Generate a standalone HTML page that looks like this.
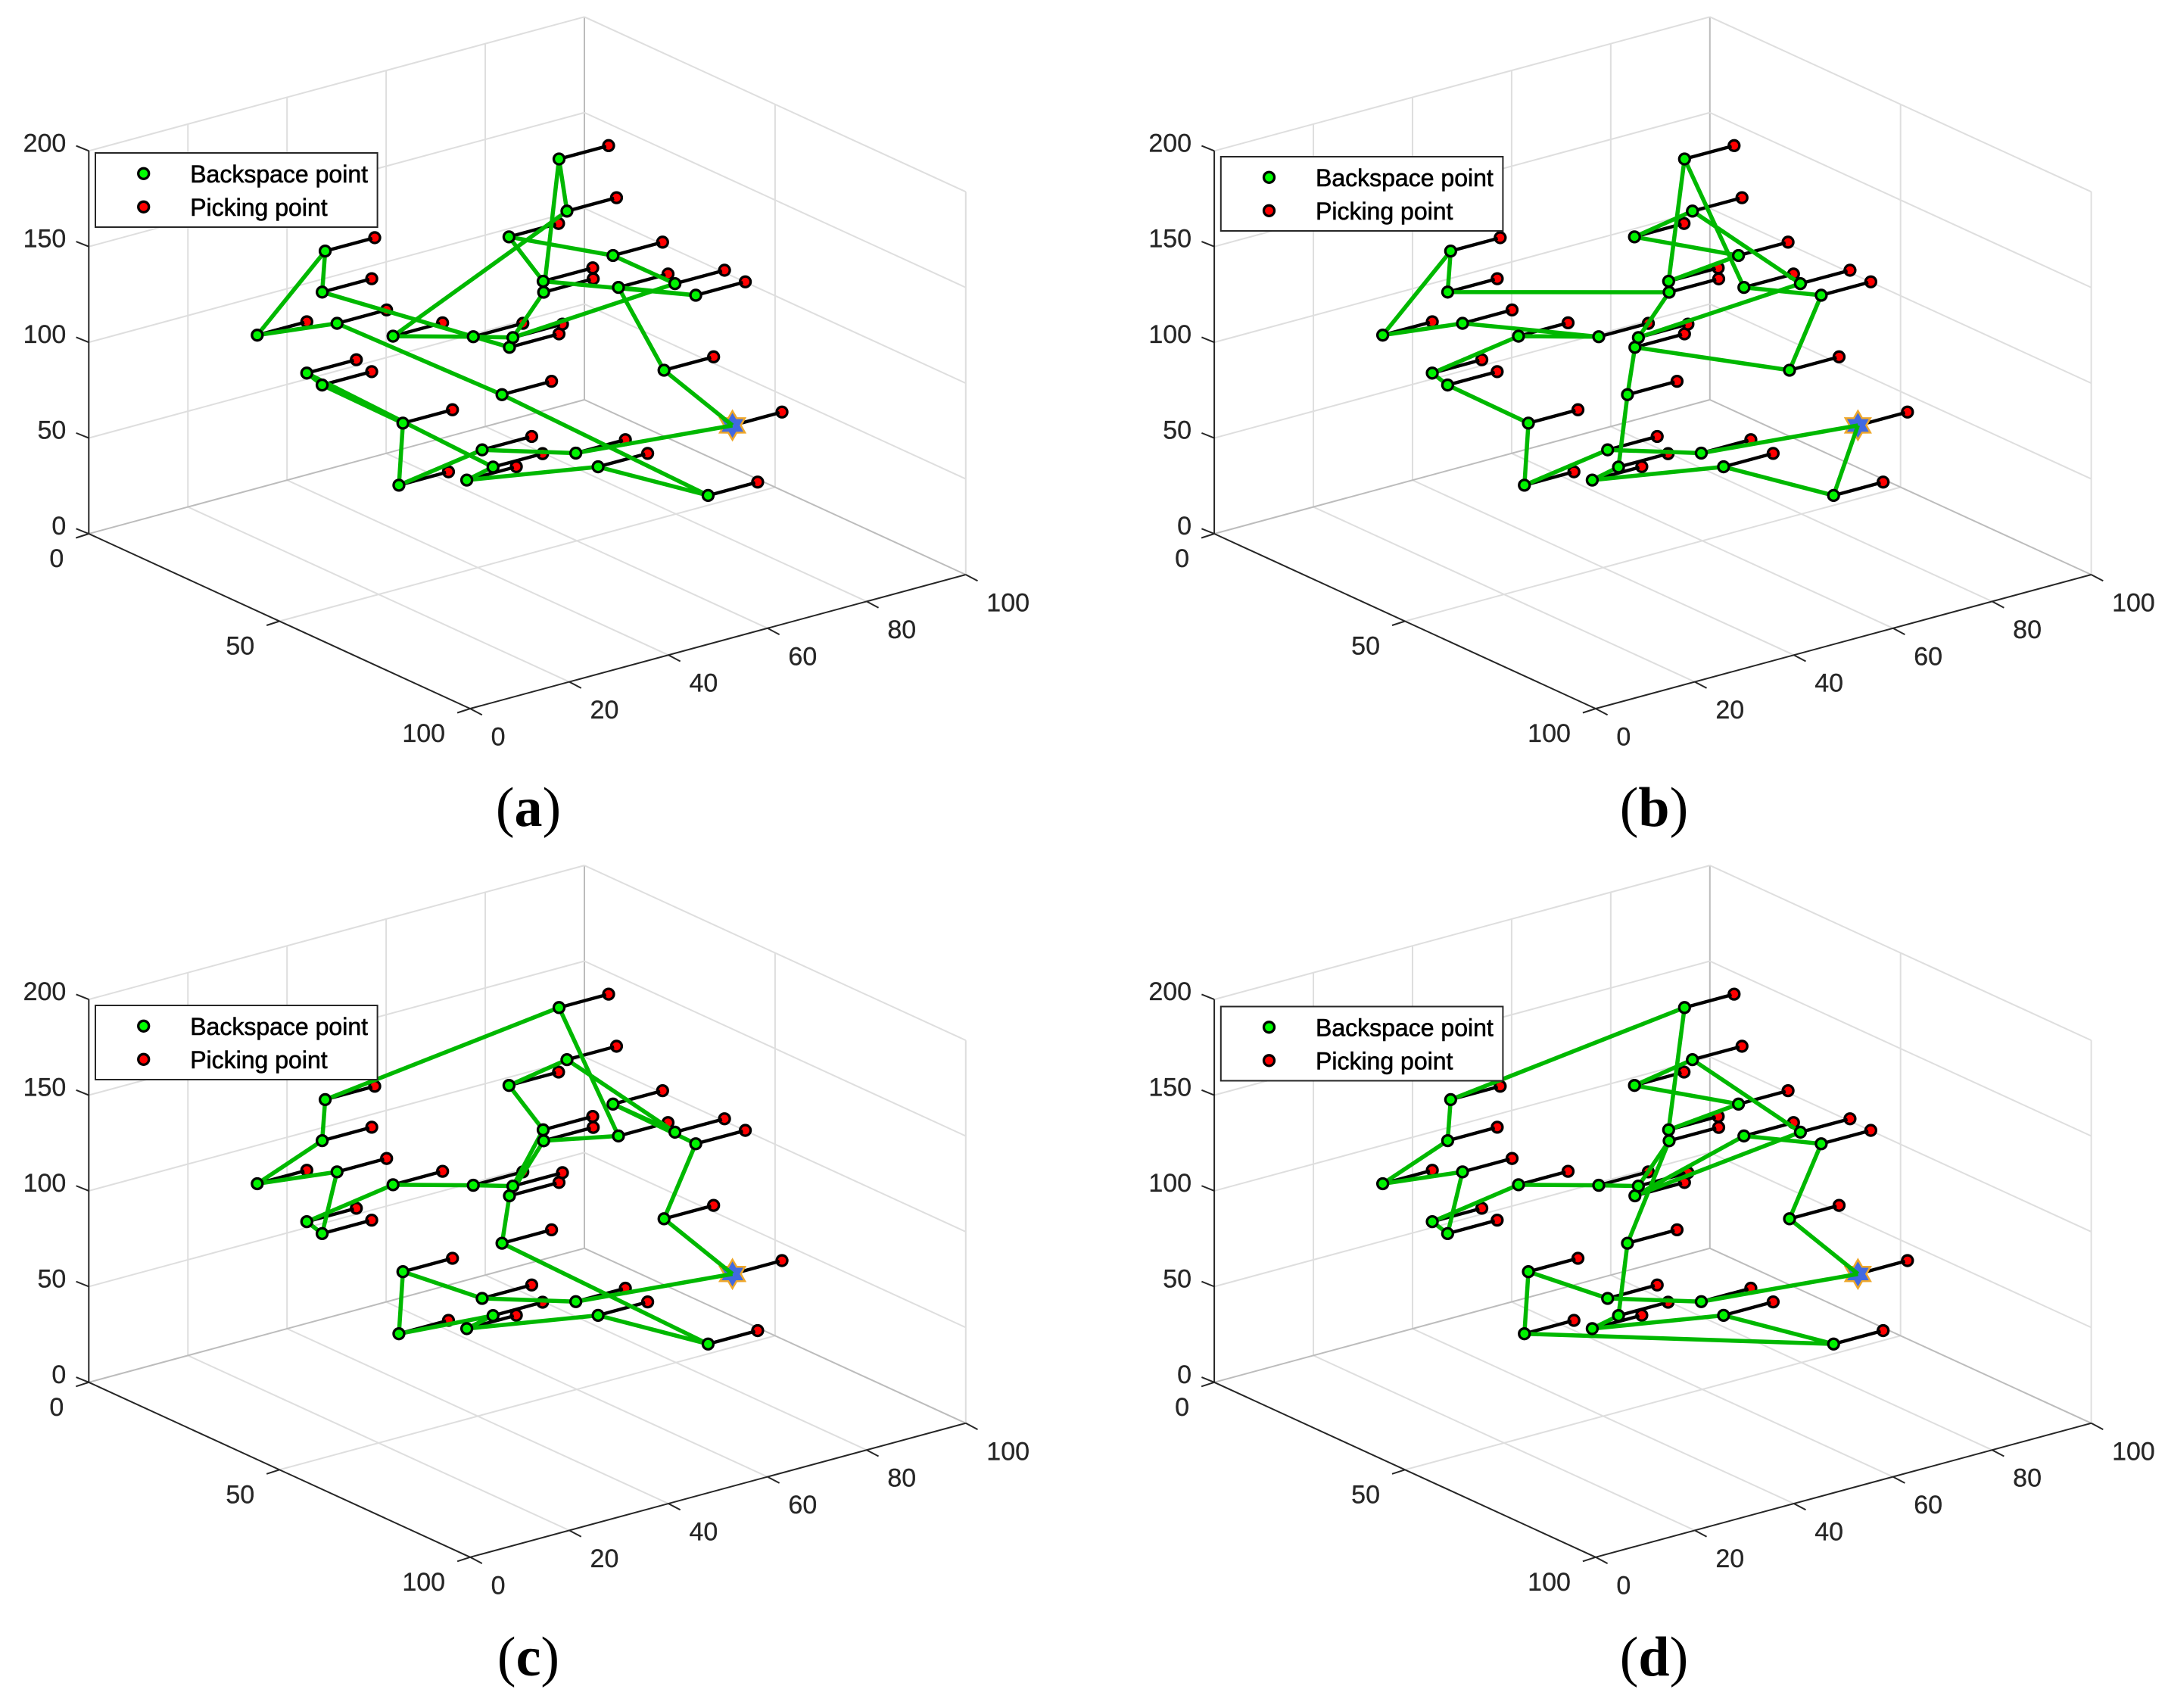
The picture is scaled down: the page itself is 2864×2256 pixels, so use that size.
<!DOCTYPE html>
<html lang="en">
<head>
<meta charset="utf-8">
<title>Picking routes in 3D (a)-(d)</title>
<style>
html,body{margin:0;padding:0;background:#fff;}
svg{display:block;}
.tick{font-family:"Liberation Sans",sans-serif;font-size:34px;fill:#262626;stroke:#262626;stroke-width:.3px;}
.leg{font-family:"Liberation Sans",sans-serif;font-size:32px;fill:#000;stroke:#000;stroke-width:.6px;}
.cap{font-family:"Liberation Serif",serif;font-size:74px;fill:#000;text-anchor:middle;}
.cap tspan{font-weight:bold;}
</style>
</head>
<body>
<svg id="fig" xmlns="http://www.w3.org/2000/svg" width="2864" height="2256" viewBox="0 0 2864 2256">
<rect width="2864" height="2256" fill="#fff"/>

<g id="plot-a" transform="translate(0,0)"></g>
<g id="plot-b" transform="translate(1486.8,0)"></g>
<g id="plot-c" transform="translate(0,1120.8)"></g>
<g id="plot-d" transform="translate(1486.8,1120.8)"></g>

<g transform="translate(126,202)">
<rect width="372.6" height="98" fill="#fff" stroke="#262626" stroke-width="2"/>
<circle cx="63.7" cy="27.3" r="7" fill="#00ff00" stroke="#000" stroke-width="3.3"/>
<text class="leg" x="125.2" y="39">Backspace point</text>
<circle cx="63.7" cy="71.3" r="7" fill="#ff0000" stroke="#000" stroke-width="3.3"/>
<text class="leg" x="125.2" y="83">Picking point</text>
</g>
<g transform="translate(1612.8,207)">
<rect width="372.6" height="98" fill="#fff" stroke="#262626" stroke-width="2"/>
<circle cx="63.7" cy="27.3" r="7" fill="#00ff00" stroke="#000" stroke-width="3.3"/>
<text class="leg" x="125.2" y="39">Backspace point</text>
<circle cx="63.7" cy="71.3" r="7" fill="#ff0000" stroke="#000" stroke-width="3.3"/>
<text class="leg" x="125.2" y="83">Picking point</text>
</g>
<g transform="translate(126,1328)">
<rect width="372.6" height="98" fill="#fff" stroke="#262626" stroke-width="2"/>
<circle cx="63.7" cy="27.3" r="7" fill="#00ff00" stroke="#000" stroke-width="3.3"/>
<text class="leg" x="125.2" y="39">Backspace point</text>
<circle cx="63.7" cy="71.3" r="7" fill="#ff0000" stroke="#000" stroke-width="3.3"/>
<text class="leg" x="125.2" y="83">Picking point</text>
</g>
<g transform="translate(1612.8,1329.5)">
<rect width="372.6" height="98" fill="#fff" stroke="#262626" stroke-width="2"/>
<circle cx="63.7" cy="27.3" r="7" fill="#00ff00" stroke="#000" stroke-width="3.3"/>
<text class="leg" x="125.2" y="39">Backspace point</text>
<circle cx="63.7" cy="71.3" r="7" fill="#ff0000" stroke="#000" stroke-width="3.3"/>
<text class="leg" x="125.2" y="83">Picking point</text>
</g>

<text class="cap" x="698" y="1091">(<tspan>a</tspan>)</text>
<text class="cap" x="2185" y="1091">(<tspan>b</tspan>)</text>
<text class="cap" x="698" y="2213">(<tspan>c</tspan>)</text>
<text class="cap" x="2185" y="2213">(<tspan>d</tspan>)</text>
</svg>

<script>
// ---- chart data ----
const xTicks = [0, 50, 100];
const yTicks = [0, 20, 40, 60, 80, 100];
const zTicks = [0, 50, 100, 150, 200];
// backspace points: point 1 is the depot (star)
const pointX = [60,60,60,60,60,50,40,30,30,40,40,50,50,40,30,20,20,10,10,30,30,40,60,60,70,70,70,70,80,50];
const pointY = [83.7,69.9,60.7,76.3,72.1,67.3,65.7,71.8,61.7,60.9,61.0,46.4,47.1,46.8,38.3,34.7,18.6,40.0,39.4,20.9,24.0,32.6,16.4,33.2,27.7,22.4,44.4,48.9,63.4,44.9];
const pointZ = [52.8,91.3,141,126,135,143.9,159.1,172.9,139.3,125.8,120,110.6,115.2,106.7,103.8,103.9,109,128.8,107.8,96.7,88.3,71.5,68.7,75.4,79.4,76.3,75,64.7,48.7,86.9];
// every picking point sits this far along the y axis from its backspace point
const pickingOffsetY = 10;
// visiting order of point ids (1-based) for each panel; tour returns to the first id
const routeA = [1,2,3,4,10,9,6,5,13,11,8,7,15,14,13,12,19,18,17,16,30,29,28,26,25,20,21,22,23,24,27];
const routeB = [1,29,28,26,25,30,12,2,4,3,8,10,6,9,7,5,13,11,19,18,17,16,14,15,20,21,22,23,24,27];
const routeC = [1,2,4,6,5,7,9,10,13,14,15,20,21,16,17,19,18,8,3,11,12,30,29,28,26,25,23,22,24,27];
const routeD = [1,2,4,3,12,5,7,9,6,10,8,18,19,17,16,21,20,15,14,13,11,30,25,26,28,29,23,22,24,27];

// ---- axis functions ----
const xMax = 100, yMax = 100, zMax = 200;
function px(x, y, z) { return 117.3 + 503.8 * x / xMax + 654.7 * y / yMax; }
function py(x, y, z) { return 705 + 231 * x / xMax - 177 * y / yMax - 505.7 * z / zMax; }

const NS = 'http://www.w3.org/2000/svg';
function mk(parent, tag, attrs, txt) {
  const el = document.createElementNS(NS, tag);
  for (const k in attrs) el.setAttribute(k, attrs[k]);
  if (txt !== undefined) el.textContent = txt;
  parent.appendChild(el);
  return el;
}
function seg(parent, a, b, stroke, width) {
  return mk(parent, 'line', {
    x1: px(a[0], a[1], a[2]), y1: py(a[0], a[1], a[2]),
    x2: px(b[0], b[1], b[2]), y2: py(b[0], b[1], b[2]),
    stroke: stroke, 'stroke-width': width
  });
}

const GRID = '#dedede', EDGE = '#bcbcbc', AXIS = '#262626';

function drawPanel(root, route, tag) {
  // grid on floor and walls
  xTicks.forEach(function (t) {
    if (t > 0 && t < xMax) {
      const floor = seg(root, [t, 0, 0], [t, yMax, 0], GRID, 2);
      
      
    }
    if (t > 0) {
      const wall = seg(root, [t, yMax, 0], [t, yMax, zMax], GRID, 2);
      
      
    }
  });
  yTicks.forEach(function (t) {
    if (t > 0 && t < yMax) {
      const floor = seg(root, [0, t, 0], [xMax, t, 0], GRID, 2);
      
      
    }
    if (t > 0) {
      const wall = seg(root, [0, t, 0], [0, t, zMax], t === yMax ? EDGE : GRID, 2);
      
      
    }
  });
  zTicks.forEach(function (t) {
    if (t > 0) {
      const left = seg(root, [0, 0, t], [0, yMax, t], GRID, 2);
      
      
      const right = seg(root, [0, yMax, t], [xMax, yMax, t], GRID, 2);
      
      
    }
  });
  const e1 = seg(root, [0, 0, 0], [0, yMax, 0], EDGE, 2);
  
  
  const e2 = seg(root, [0, yMax, 0], [xMax, yMax, 0], EDGE, 2);
  
  

  // axes
  const ax = seg(root, [0, 0, 0], [xMax, 0, 0], AXIS, 2);
  
  
  const ay = seg(root, [xMax, 0, 0], [xMax, yMax, 0], AXIS, 2);
  
  
  const az = seg(root, [0, 0, 0], [0, 0, zMax], AXIS, 2);
  
  

  // ticks and labels
  xTicks.forEach(function (t) {
    const x0 = px(t, 0, 0), y0 = py(t, 0, 0);
    const m = mk(root, 'line', { x1: x0, y1: y0, x2: x0 - 17, y2: y0 + 5.5, stroke: AXIS, 'stroke-width': 2 });
    
    
    const l = mk(root, 'text', { x: x0 - 33, y: y0 + 44, 'text-anchor': 'end', 'class': 'tick' }, String(t));
    
    
  });
  yTicks.forEach(function (t) {
    const x0 = px(xMax, t, 0), y0 = py(xMax, t, 0);
    const m = mk(root, 'line', { x1: x0, y1: y0, x2: x0 + 15.7, y2: y0 + 8.3, stroke: AXIS, 'stroke-width': 2 });
    
    
    const l = mk(root, 'text', { x: x0 + 27.5, y: y0 + 48.5, 'text-anchor': 'start', 'class': 'tick' }, String(t));
    
    
  });
  zTicks.forEach(function (t) {
    const x0 = px(0, 0, t), y0 = py(0, 0, t);
    const m = mk(root, 'line', { x1: x0, y1: y0, x2: x0 - 16.7, y2: y0 - 6.7, stroke: AXIS, 'stroke-width': 2 });
    
    
    const l = mk(root, 'text', { x: x0 - 30, y: y0 + 1, 'text-anchor': 'end', 'class': 'tick' }, String(t));
    
    
  });

  // picking points and connectors
  pointX.forEach(function (v, i) {
    const pxx = px(pointX[i], pointY[i] + pickingOffsetY, pointZ[i]);
    const pyy = py(pointX[i], pointY[i] + pickingOffsetY, pointZ[i]);
    const c = mk(root, 'circle', { cx: pxx, cy: pyy, r: 7, fill: '#ff0000', stroke: '#000', 'stroke-width': 3.3 });
    
    
  });
  pointX.forEach(function (v, i) {
    const s = mk(root, 'line', {
      x1: px(pointX[i], pointY[i], pointZ[i]), y1: py(pointX[i], pointY[i], pointZ[i]),
      x2: px(pointX[i], pointY[i] + pickingOffsetY * 0.95, pointZ[i]), y2: py(pointX[i], pointY[i] + pickingOffsetY * 0.95, pointZ[i]),
      stroke: '#000', 'stroke-width': 4.4
    });
    
    
  });

  // depot star
  const sx = px(pointX[0], pointY[0], pointZ[0]), sy = py(pointX[0], pointY[0], pointZ[0]);
  const pts = [];
  for (let k = 0; k < 12; k++) {
    const r = k % 2 === 0 ? 19 : 11;
    const ang = -Math.PI / 2 + k * Math.PI / 6;
    pts.push((sx + r * Math.cos(ang)).toFixed(1) + ',' + (sy + r * Math.sin(ang)).toFixed(1));
  }
  const star = mk(root, 'polygon', { points: pts.join(' '), fill: '#4169e1', stroke: '#efa72a', 'stroke-width': 2.5, 'stroke-linejoin': 'miter' });
  
  

  // route
  const routePts = route.concat([route[0]]).map(function (id) {
    return px(pointX[id - 1], pointY[id - 1], pointZ[id - 1]).toFixed(1) + ',' + py(pointX[id - 1], pointY[id - 1], pointZ[id - 1]).toFixed(1);
  });
  const rt = mk(root, 'polyline', { points: routePts.join(' '), fill: 'none', stroke: '#00b800', 'stroke-width': 5.5, 'stroke-linejoin': 'round' });
  
  

  // backspace markers
  pointX.forEach(function (v, i) {
    if (i === 0) return;
    const c = mk(root, 'circle', { cx: px(pointX[i], pointY[i], pointZ[i]), cy: py(pointX[i], pointY[i], pointZ[i]), r: 7, fill: '#00f400', stroke: '#000', 'stroke-width': 3.3 });
    
    
  });
}

drawPanel(document.getElementById('plot-a'), routeA, 'a');
drawPanel(document.getElementById('plot-b'), routeB, 'b');
drawPanel(document.getElementById('plot-c'), routeC, 'c');
drawPanel(document.getElementById('plot-d'), routeD, 'd');
</script>
</body>
</html>
